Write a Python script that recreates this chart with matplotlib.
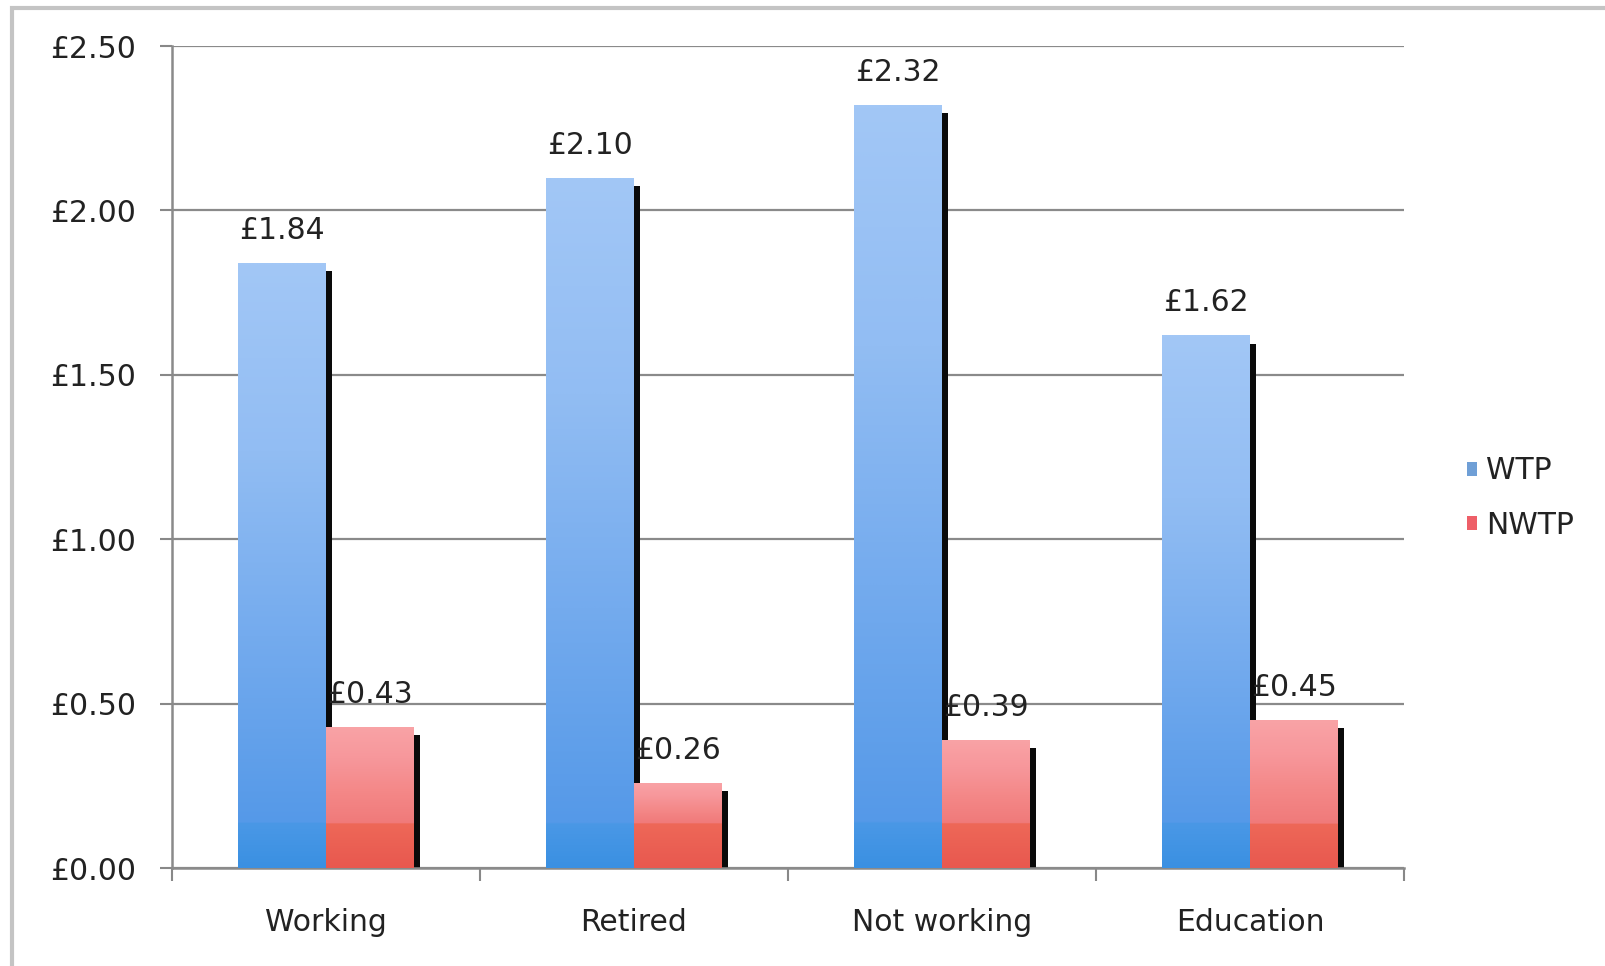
import numpy as np
import matplotlib
matplotlib.use("Agg")
import matplotlib.pyplot as plt
from matplotlib.patches import Patch, Rectangle
from matplotlib.colors import LinearSegmentedColormap, to_rgb

categories = ["Working", "Retired", "Not working", "Education"]
wtp = [1.84, 2.10, 2.32, 1.62]
nwtp = [0.43, 0.26, 0.39, 0.45]
series_names = ["WTP", "NWTP"]
yticks = [0.0, 0.5, 1.0, 1.5, 2.0, 2.5]

plt.rcParams['font.family'] = ['DejaVu Sans']
FS = 21.5
TXT = '#222222'

fig = plt.figure(figsize=(16.05, 9.66), dpi=100)
ax = fig.add_axes([172/1605, 1-868/966, (1404-172)/1605, (868-46)/966])

x = np.arange(len(categories))
w = 1/3.5

blue_body = LinearSegmentedColormap.from_list('b', ['#5599e8', '#74abee', '#92bdf3', '#a2c7f6'])
red_body = LinearSegmentedColormap.from_list('r', ['#f07a7a', '#f48888', '#f7979b', '#f9a3a6'])
blue_band = ('#3a90e2', '#4a98e6')
red_band = ('#e8584f', '#ee6858')
BAND = 0.135

def grad_bars(xs, vals, body, band):
    bars = ax.bar(xs, vals, width=w, color='none', edgecolor='none', zorder=3)
    for b in bars:
        bx, by = b.get_x(), b.get_y()
        bw, bh = b.get_width(), b.get_height()
        ys = np.linspace(0, bh, 400)
        img = np.zeros((len(ys), 1, 3))
        c0, c1 = np.array(to_rgb(band[0])), np.array(to_rgb(band[1]))
        for k, yy in enumerate(ys):
            if yy < BAND:
                t = yy / BAND
                img[k, 0] = c0 * (1 - t) + c1 * t
            else:
                t = (yy - BAND) / max(bh - BAND, 1e-6)
                img[k, 0] = body(t)[:3]
        im = ax.imshow(img, aspect='auto', origin='lower',
                       extent=[bx, bx + bw, by, by + bh], zorder=3, interpolation='bilinear')
        im.set_clip_path(b)
    return bars

shadow_w = 0.02
sh_off = 0.025
ax.bar(x + shadow_w/2, np.array(wtp) - sh_off, width=shadow_w, color='#0a0a0a', zorder=2.5)
ax.bar(x + w + shadow_w/2, np.array(nwtp) - sh_off, width=shadow_w, color='#0a0a0a', zorder=2.5)

grad_bars(x - w/2, wtp, blue_body, blue_band)
grad_bars(x + w/2, nwtp, red_body, red_band)

for xi, v in zip(x - w/2, wtp):
    ax.annotate(f"£{v:.2f}", (xi, v), xytext=(0, 18), textcoords='offset pixels',
                ha='center', va='bottom', fontsize=FS, color=TXT, zorder=5)
for xi, v in zip(x + w/2, nwtp):
    ax.annotate(f"£{v:.2f}", (xi, v), xytext=(0, 18), textcoords='offset pixels',
                ha='center', va='bottom', fontsize=FS, color=TXT, zorder=5)

ax.set_xlim(-0.5, len(categories) - 0.5)
ax.set_ylim(0, 2.5)
ax.set_yticks(yticks)
ax.set_yticklabels([f"£{t:.2f}" for t in yticks], fontsize=FS, color=TXT)
ax.set_xticks(x)
ax.set_xticklabels(categories, fontsize=FS, color=TXT)
ax.set_xticks(np.arange(-0.5, len(categories)), minor=True)
ax.tick_params(axis='x', which='major', length=0, pad=29)
ax.tick_params(axis='x', which='minor', length=9, width=1.5, color='#888888', direction='out')
ax.tick_params(axis='y', length=9, width=1.5, color='#888888', pad=17, direction='out')

ax.yaxis.grid(True, color='#8a8a8a', linewidth=1.6, zorder=1)
ax.set_axisbelow(True)
for s in ['top', 'right']:
    ax.spines[s].set_visible(False)
for s in ['left', 'bottom']:
    ax.spines[s].set_color('#8a8a8a')
    ax.spines[s].set_linewidth(1.8)
ax.patch.set_alpha(0)

handles = [Patch(facecolor='#6f9fd6', edgecolor='none'), Patch(facecolor='#ee5f68', edgecolor='none')]
leg = fig.legend(handles, series_names, loc='center left',
                 bbox_to_anchor=(1440/1605, 1 - 498/966), frameon=False,
                 fontsize=FS, handlelength=0.35, handleheight=0.35, handletextpad=0.3,
                 labelspacing=0.85, labelcolor=TXT)

fig.patches.append(Rectangle((12/1605, -0.1), 1.2, 1.1 - 8/966, transform=fig.transFigure,
                             fill=False, edgecolor='#c4c4c4', linewidth=3, zorder=0))

fig.savefig('out.png', dpi=100)
